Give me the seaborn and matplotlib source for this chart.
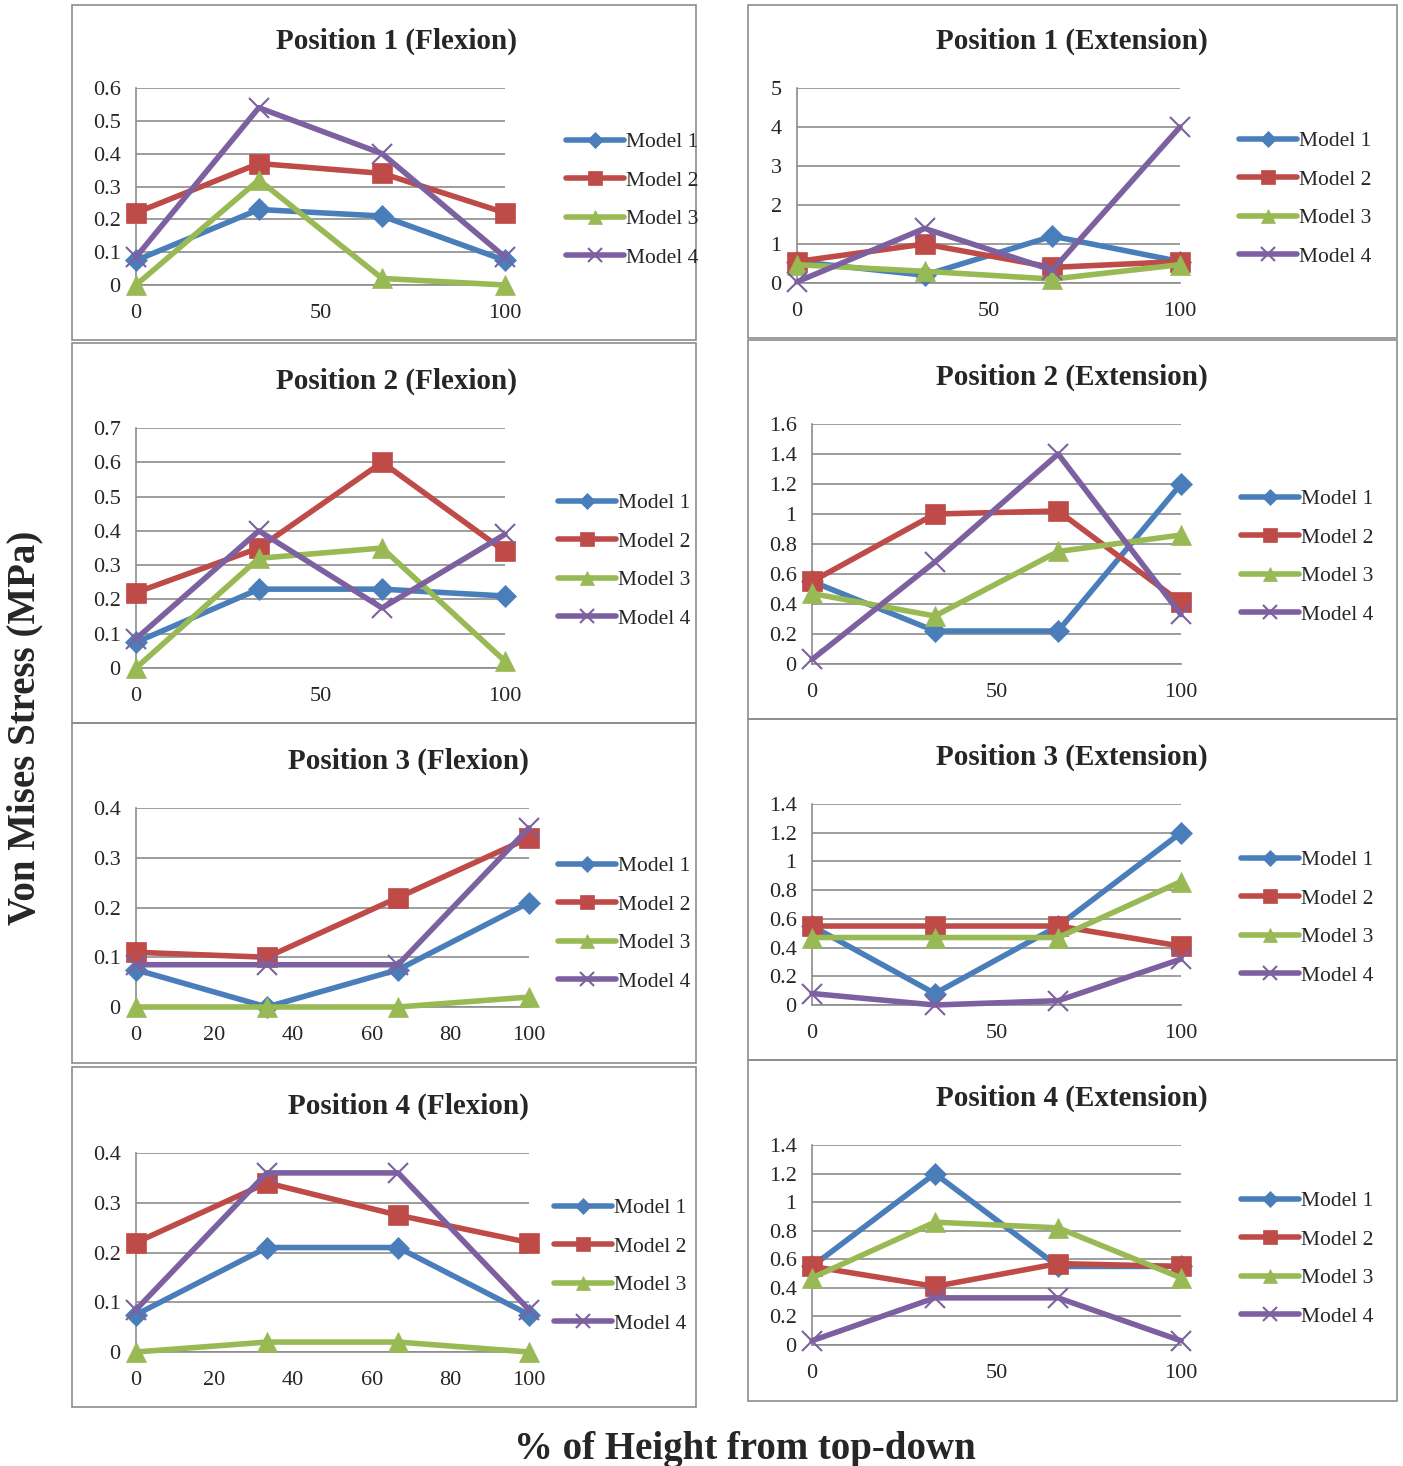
import pandas as pd
import seaborn as sns
import matplotlib.pyplot as plt
from matplotlib.lines import Line2D
from matplotlib.patches import Rectangle

# data
heights = [0, 33.3, 66.7, 100]
models = ['Model 1', 'Model 2', 'Model 3', 'Model 4']

p1_flex = [[0.075, 0.23, 0.21, 0.075],
           [0.22, 0.37, 0.34, 0.22],
           [0.0, 0.32, 0.02, 0.0],
           [0.085, 0.54, 0.40, 0.085]]
p1_ext = [[0.55, 0.2, 1.2, 0.55],
          [0.55, 1.0, 0.4, 0.55],
          [0.47, 0.3, 0.1, 0.47],
          [0.03, 1.4, 0.33, 4.0]]
p2_flex = [[0.075, 0.23, 0.23, 0.21],
           [0.22, 0.35, 0.60, 0.34],
           [0.0, 0.32, 0.35, 0.02],
           [0.085, 0.40, 0.175, 0.39]]
p2_ext = [[0.55, 0.22, 0.22, 1.2],
          [0.55, 1.0, 1.02, 0.41],
          [0.47, 0.32, 0.75, 0.86],
          [0.03, 0.68, 1.4, 0.33]]
p3_flex = [[0.075, 0.0, 0.075, 0.21],
           [0.11, 0.10, 0.22, 0.34],
           [0.0, 0.0, 0.0, 0.02],
           [0.085, 0.085, 0.085, 0.36]]
p3_ext = [[0.55, 0.08, 0.55, 1.2],
          [0.55, 0.55, 0.55, 0.41],
          [0.47, 0.47, 0.47, 0.86],
          [0.08, 0.0, 0.03, 0.32]]
p4_flex = [[0.075, 0.21, 0.21, 0.075],
           [0.22, 0.34, 0.275, 0.22],
           [0.0, 0.02, 0.02, 0.0],
           [0.085, 0.36, 0.36, 0.085]]
p4_ext = [[0.55, 1.2, 0.55, 0.55],
          [0.55, 0.41, 0.57, 0.55],
          [0.47, 0.86, 0.82, 0.47],
          [0.03, 0.33, 0.33, 0.03]]

colors = ['#4A7EBB', '#BE4B48', '#98B954', '#7D60A0']
markers = ['D', 's', '^', 'x']
msizes = [11, 14, 14, 14]

W, H = 1403, 1466
sns.set_style('white')
plt.rcParams['font.family'] = ['Liberation Serif', 'DejaVu Serif']
fig = plt.figure(figsize=(W / 100, H / 100), dpi=100)


def frac(x0, y0, x1, y1):
    return [x0 / W, 1 - y1 / H, (x1 - x0) / W, (y1 - y0) / H]


# (title, data, box px, axes px, ymax, ystep, xstep, legend px, title px)
panels = [
    ('Position 1 (Flexion)', p1_flex, (72, 5, 696, 340), (136, 88, 505, 285), 0.6, 0.1, 50, (555, 200), (397, 41)),
    ('Position 1 (Extension)', p1_ext, (748, 5, 1397, 338), (797, 88, 1180, 283), 5, 1, 50, (1228, 199), (1072, 41)),
    ('Position 2 (Flexion)', p2_flex, (72, 343, 696, 723), (136, 428, 505, 668), 0.7, 0.1, 50, (547, 561), (397, 381)),
    ('Position 2 (Extension)', p2_ext, (748, 340, 1397, 719), (812, 424, 1181, 664), 1.6, 0.2, 50, (1230, 557), (1072, 377)),
    ('Position 3 (Flexion)', p3_flex, (72, 723, 696, 1063), (136, 808, 529, 1007), 0.4, 0.1, 20, (547, 924), (408, 761)),
    ('Position 3 (Extension)', p3_ext, (748, 719, 1397, 1060), (812, 804, 1181, 1005), 1.4, 0.2, 50, (1230, 918), (1072, 757)),
    ('Position 4 (Flexion)', p4_flex, (72, 1067, 696, 1407), (136, 1153, 529, 1352), 0.4, 0.1, 20, (543, 1266), (408, 1106)),
    ('Position 4 (Extension)', p4_ext, (748, 1060, 1397, 1401), (812, 1145, 1181, 1345), 1.4, 0.2, 50, (1230, 1259), (1072, 1098)),
]

for title, vals, box, axpx, ymax, ystep, xstep, legpos, tpos in panels:
    fig.add_artist(Rectangle((box[0] / W, 1 - box[3] / H), (box[2] - box[0]) / W,
                             (box[3] - box[1]) / H, transform=fig.transFigure,
                             fill=False, edgecolor='#8C8C8C', linewidth=1.2))
    ax = fig.add_axes(frac(*axpx))
    rows = []
    for m, series in zip(models, vals):
        for h, v in zip(heights, series):
            rows.append({'height': h, 'stress': v, 'model': m})
    df = pd.DataFrame(rows)
    for i, m in enumerate(models):
        sns.lineplot(data=df[df['model'] == m], x='height', y='stress', ax=ax,
                     color=colors[i], marker=markers[i], markersize=msizes[i],
                     markeredgewidth=1.5 if markers[i] == 'x' else 0.5,
                     markeredgecolor=colors[i], linewidth=4, clip_on=False,
                     zorder=3 + i)
    ax.set_xlim(0, 100)
    ax.set_ylim(0, ymax)
    nticks = int(round(ymax / ystep))
    yt = [round(k * ystep, 2) for k in range(nticks + 1)]
    ax.set_yticks(yt)
    ax.set_yticklabels([('%g' % t) for t in yt])
    ax.set_xticks(list(range(0, 101, xstep)))
    ax.set_xlabel('')
    ax.set_ylabel('')
    ax.grid(axis='y', color='#8C8C8C', linewidth=1.2)
    ax.grid(axis='x', visible=False)
    ax.set_axisbelow(True)
    for s in ['top', 'right']:
        ax.spines[s].set_visible(False)
    for s in ['left', 'bottom']:
        ax.spines[s].set_color('#8C8C8C')
        ax.spines[s].set_linewidth(1.2)
    ax.tick_params(axis='both', which='both', direction='out', length=7,
                   color='#8C8C8C', width=1.2, labelsize=16, pad=7)
    ax.tick_params(axis='y', pad=4)
    if ax.get_legend():
        ax.get_legend().remove()

    handles = [Line2D([0], [0], color=colors[i], marker=markers[i],
                      markersize=msizes[i] * 0.75, linewidth=4,
                      markeredgewidth=1.5 if markers[i] == 'x' else 0.5,
                      markeredgecolor=colors[i]) for i in range(4)]
    fig.legend(handles, models, loc='center left',
               bbox_to_anchor=(legpos[0] / W, 1 - legpos[1] / H),
               frameon=False, fontsize=15.5, handlelength=2.7,
               handletextpad=0.1, labelspacing=0.85, borderpad=0)
    fig.text(tpos[0] / W, 1 - tpos[1] / H, title, ha='center', va='center',
             fontsize=21, fontweight='bold')

fig.text(25 / W, 1 - 728 / H, 'Von Mises Stress (MPa)', rotation=90,
         ha='center', va='center', fontsize=28, fontweight='bold')
fig.text(745 / W, 1 - 1449 / H, '% of Height from top-down',
         ha='center', va='center', fontsize=28, fontweight='bold')

fig.savefig('out.png', dpi=100, facecolor='white')
